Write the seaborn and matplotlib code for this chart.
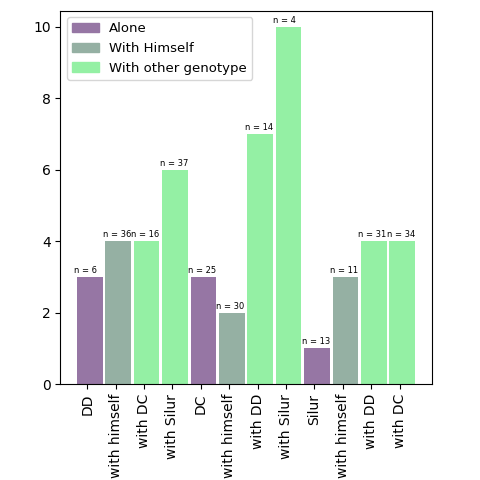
import pandas as pd
import seaborn as sns
import matplotlib.pyplot as plt
from matplotlib.patches import Patch

labels = ["DD", "with himself", "with DC", "with Silur",
          "DC", "with himself", "with DD", "with Silur",
          "Silur", "with himself", "with DD", "with DC"]
values = [3, 4, 4, 6, 3, 2, 7, 10, 1, 3, 4, 4]
counts = [6, 36, 16, 37, 25, 30, 14, 4, 13, 11, 31, 34]
groups = ["Alone", "With Himself", "With other genotype", "With other genotype",
          "Alone", "With Himself", "With other genotype", "With other genotype",
          "Alone", "With Himself", "With other genotype", "With other genotype"]
group_names = ["Alone", "With Himself", "With other genotype"]

colors = {"Alone": "#9676a4", "With Himself": "#95b0a3", "With other genotype": "#94f0a4"}

ticks = list(range(len(labels)))
df = pd.DataFrame({"pos": [t + 0.09 for t in ticks], "value": values, "group": groups})

fig = plt.figure(figsize=(4.8, 4.8), dpi=100)
ax = fig.add_axes([0.126, 0.2, 0.774, 0.778])

sns.barplot(data=df, x="pos", y="value", hue="group", native_scale=True,
            dodge=False, width=0.9, palette=colors, saturation=1,
            hue_order=group_names, legend=False, ax=ax)

# n labels above each bar
for t, v, n in zip(ticks, values, counts):
    ax.text(t - 0.45, v + 0.05, f"n = {n}", fontsize=6, ha="left", va="bottom")

ax.set_xticks(ticks)
ax.set_xticklabels(labels, rotation=90)
ax.set_xlim(-0.94, 12.14)
ax.set_ylim(0, 10.45)
ax.set_xlabel("")
ax.set_ylabel("")

handles = [Patch(color=colors[g], label=g) for g in group_names]
ax.legend(handles=handles, loc="upper left", fontsize=9.5)

plt.savefig("out.png", dpi=100)
